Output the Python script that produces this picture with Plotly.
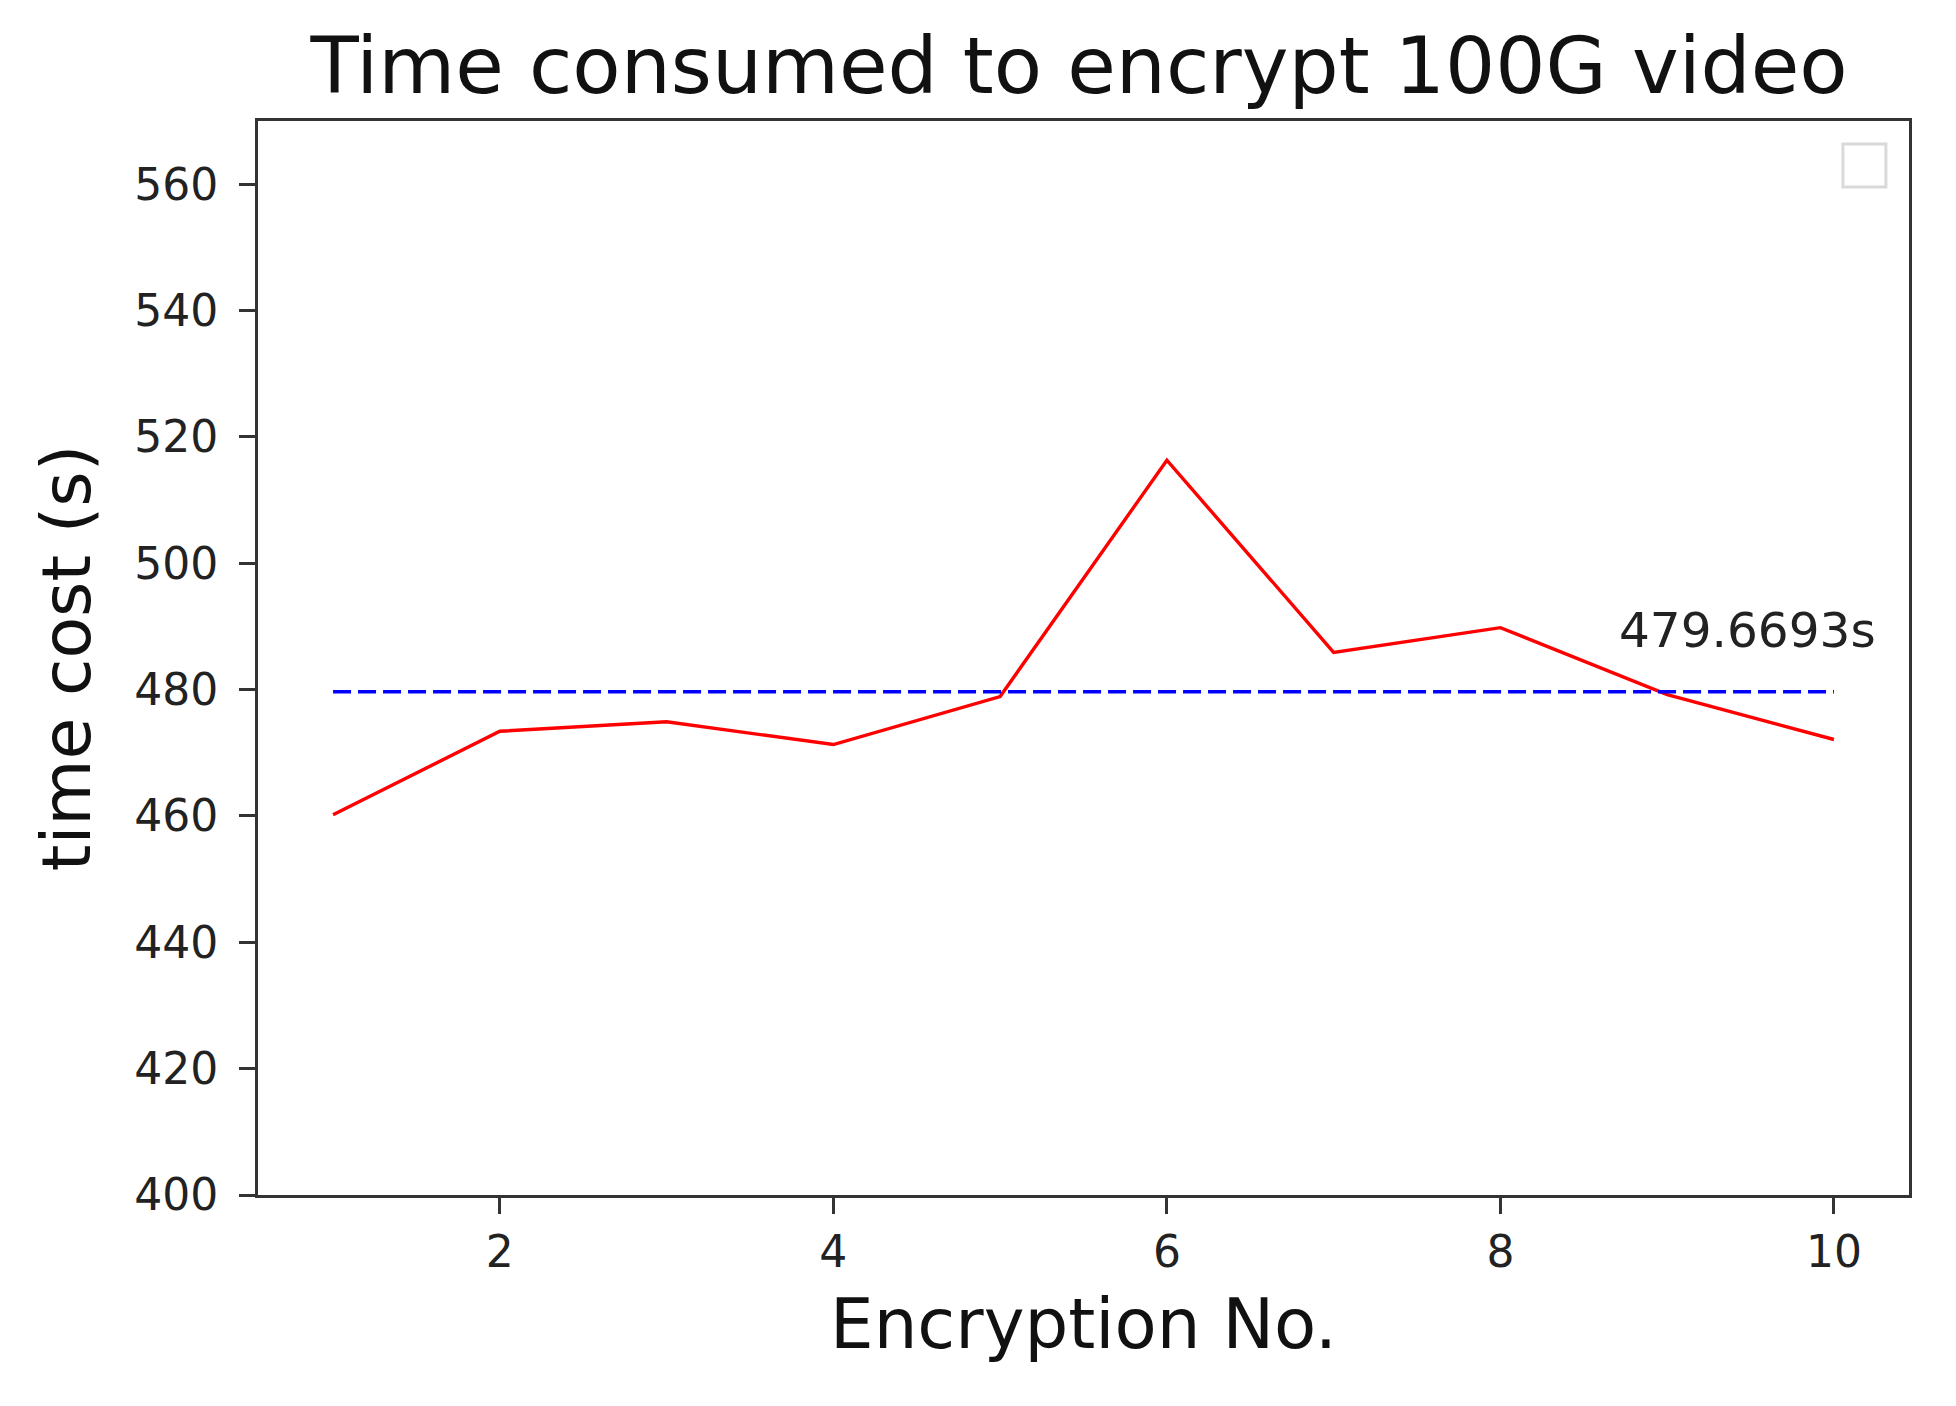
import plotly.graph_objects as go

# encryption runs and measured times (s)
runs = [1, 2, 3, 4, 5, 6, 7, 8, 9, 10]
time_cost = [460.2, 473.4, 474.9, 471.3, 478.9, 516.3, 485.9, 489.8, 479.2, 472.1]
mean_cost = 479.6693
mean_label = "479.6693s"

x_ticks = [2, 4, 6, 8, 10]
y_ticks = [400, 420, 440, 460, 480, 500, 520, 540, 560]

FONT = "DejaVu Sans"
AXIS_COLOR = "#333333"

fig = go.Figure()
fig.add_trace(go.Scatter(
    x=runs, y=time_cost, mode="lines",
    line=dict(color="#ff0000", width=3.4),
    showlegend=False,
))
fig.add_trace(go.Scatter(
    x=[runs[0], runs[-1]], y=[mean_cost, mean_cost], mode="lines",
    line=dict(color="#0000ff", width=3.4, dash="18px,7px"),
    showlegend=False,
))

fig.add_annotation(
    x=8.70, y=486.3, text=mean_label, showarrow=False,
    xanchor="left", yanchor="bottom", yshift=-10,
    font=dict(family=FONT, size=48.5, color="#222222"),
)

# empty legend frame in the top right corner
fig.add_shape(
    type="rect", xref="x domain", yref="y domain",
    x0=0.960, x1=0.986, y0=0.9385, y1=0.9786,
    line=dict(color="#d9d9d9", width=3), fillcolor="white",
)

axis_common = dict(
    showline=True, mirror=True, linecolor=AXIS_COLOR, linewidth=3,
    ticks="outside", ticklen=16, tickwidth=3, tickcolor=AXIS_COLOR,
    showgrid=False, zeroline=False,
    tickfont=dict(family=FONT, size=44, color="#222222"),
)

fig.update_layout(
    width=1956, height=1406,
    paper_bgcolor="white", plot_bgcolor="white",
    margin=dict(l=250, r=55, t=113, b=219),
    title=dict(
        text="Time consumed to encrypt 100G video",
        x=0.5476, xanchor="center", y=0.979, yanchor="top",
        font=dict(family=FONT, size=79, color="#111111"),
    ),
    xaxis=dict(
        range=[0.55, 10.45], tickvals=x_ticks,
        title=dict(text="Encryption No.", standoff=24,
                   font=dict(family=FONT, size=69, color="#111111")),
        **axis_common,
    ),
    yaxis=dict(
        range=[400, 570], tickvals=y_ticks, ticklabelstandoff=12,
        title=dict(text="time cost (s)", standoff=22,
                   font=dict(family=FONT, size=68, color="#111111")),
        **axis_common,
    ),
)

fig.write_html("out.html")
